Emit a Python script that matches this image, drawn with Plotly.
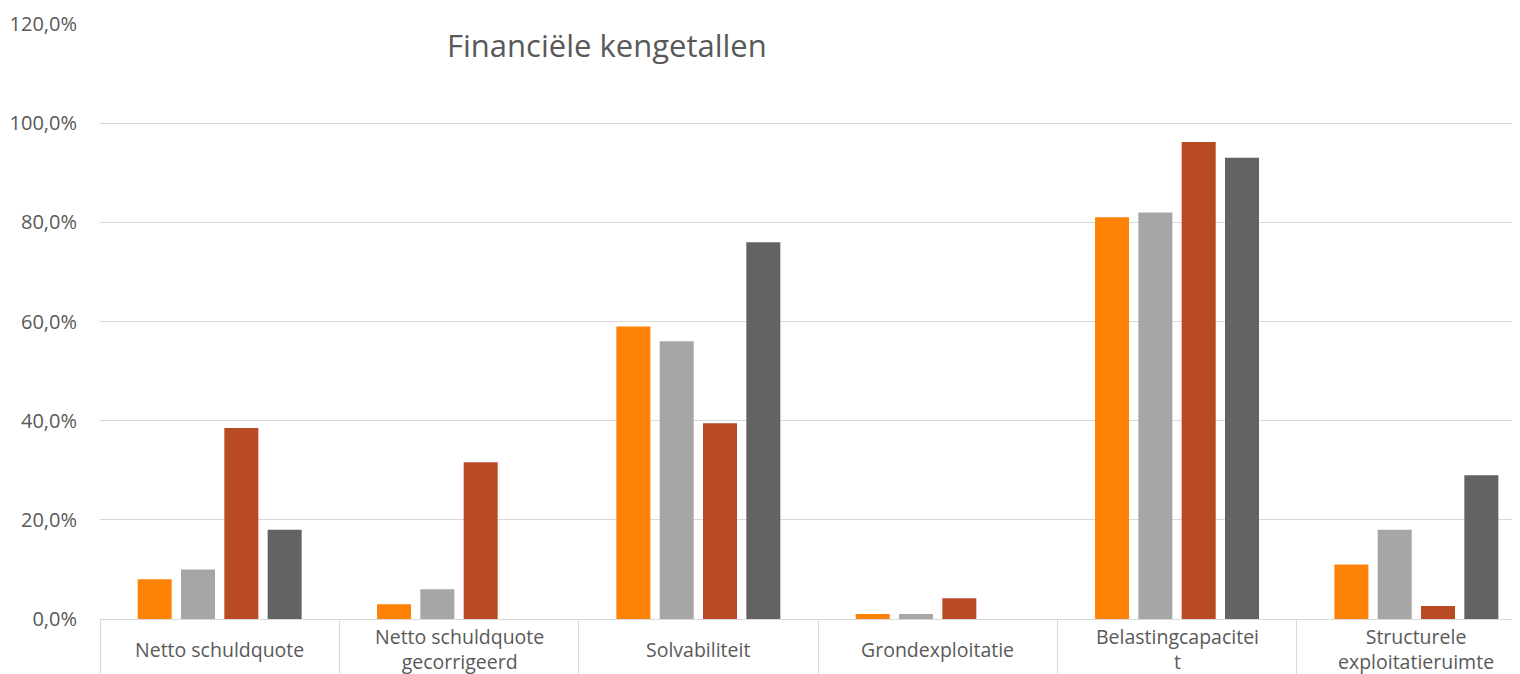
import plotly.graph_objects as go

categories = ["Netto schuldquote", "Netto schuldquote<br>gecorrigeerd", "Solvabiliteit",
              "Grondexploitatie", "Belastingcapacitei<br>t", "Structurele<br>exploitatieruimte"]
series_names = ["Reeks 1", "Reeks 2", "Reeks 3", "Reeks 4"]
series_1 = [0.080, 0.030, 0.590, 0.010, 0.810, 0.110]
series_2 = [0.100, 0.060, 0.560, 0.010, 0.820, 0.180]
series_3 = [0.385, 0.316, 0.395, 0.042, 0.962, 0.026]
series_4 = [0.180, None, 0.760, None, 0.930, 0.290]
colors = ["#fd8206", "#a6a6a6", "#b94a24", "#636363"]
y_ticks = [0, 0.2, 0.4, 0.6, 0.8, 1.0, 1.2]

x_idx = list(range(len(categories)))
fig = go.Figure()
for name, vals, col in zip(series_names, [series_1, series_2, series_3, series_4], colors):
    fig.add_trace(go.Bar(x=x_idx, y=vals, name=name, marker=dict(color=col, line=dict(width=0))))

font_fam = "Open Sans, Noto Sans, sans-serif"
txt = "#595959"
grid = "#d9d9d9"

for i, c in enumerate(categories):
    fig.add_annotation(x=i, y=-0.051, xref="x", yref="paper", text=c, showarrow=False,
                       yanchor="middle", xanchor="center",
                       font=dict(family=font_fam, size=19.5, color=txt))

fig.add_annotation(x=0.357, y=0.965, xref="paper", yref="paper", text="Financiële kengetallen",
                   showarrow=False, xanchor="center", yanchor="middle",
                   font=dict(family=font_fam, size=31, color=txt))

fig.update_layout(
    width=1512, height=666,
    margin=dict(l=92, r=0, t=16, b=55, autoexpand=False),
    paper_bgcolor="white", plot_bgcolor="white",
    showlegend=False,
    barmode="group", bargap=0.276, bargroupgap=0.215,
    separators=",.",
    font=dict(family=font_fam, color=txt),
)
fig.update_xaxes(
    range=[-0.5, 5.433], tickmode="array", tickvals=[i + 0.5 for i in x_idx] + [-0.5],
    ticktext=["" for _ in x_idx] + [""], ticks="outside", ticklen=55, tickcolor=grid, tickwidth=1,
    showline=True, linecolor=grid, linewidth=1, showgrid=False, zeroline=False, automargin=False,
)
fig.update_yaxes(
    range=[0, 1.2], tickvals=y_ticks, tickformat=".1%", showgrid=True, gridcolor=grid, gridwidth=1,
    zeroline=False, showline=False, ticks="", ticklabelstandoff=22, automargin=False,
    tickfont=dict(family=font_fam, size=20, color=txt),
)
fig.write_html("out.html")
